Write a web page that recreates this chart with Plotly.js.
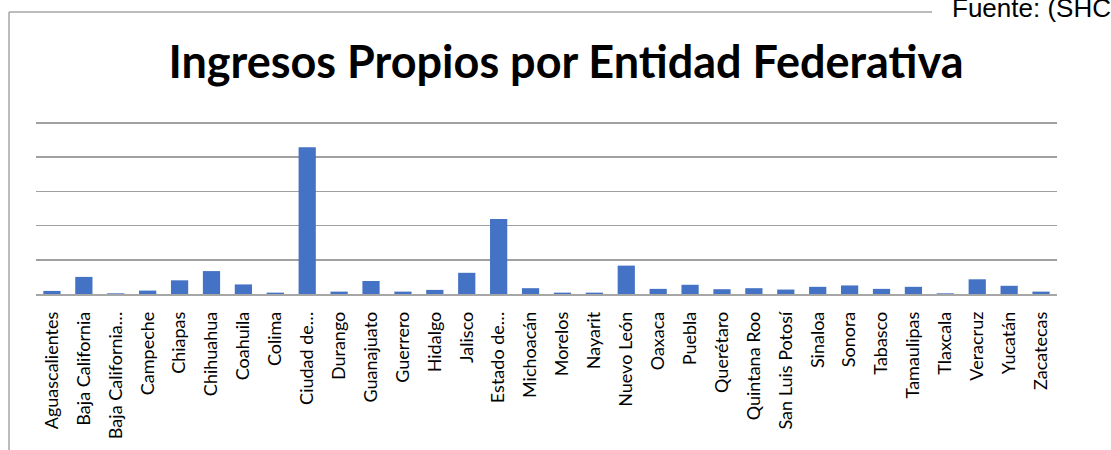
<!DOCTYPE html>
<html>
<head>
<meta charset="utf-8">
<script src="https://cdn.plot.ly/plotly-3.0.1.min.js"></script>
<style>
  html, body { margin: 0; padding: 0; background: #fff; }
  #chart { width: 1111px; height: 450px; }
</style>
</head>
<body>
<div id="chart"></div>
<script>
// entidades as shown on the axis (Excel truncated three of them)
const entidades = [
  "Aguascalientes", "Baja California", "Baja California…", "Campeche",
  "Chiapas", "Chihuahua", "Coahuila", "Colima", "Ciudad de…", "Durango",
  "Guanajuato", "Guerrero", "Hidalgo", "Jalisco", "Estado de…", "Michoacán",
  "Morelos", "Nayarit", "Nuevo León", "Oaxaca", "Puebla", "Querétaro",
  "Quintana Roo", "San Luis Potosí", "Sinaloa", "Sonora", "Tabasco",
  "Tamaulipas", "Tlaxcala", "Veracruz", "Yucatán", "Zacatecas",
];

// in gridline units (axis has no labels)
const ingresos = [
  0.09, 0.50, 0.02, 0.10, 0.40, 0.67, 0.28, 0.04, 4.29, 0.07,
  0.38, 0.07, 0.12, 0.62, 2.19, 0.17, 0.04, 0.04, 0.83, 0.15,
  0.27, 0.14, 0.17, 0.13, 0.21, 0.25, 0.15, 0.21, 0.02, 0.43,
  0.24, 0.07,
];

const gridTicks = [0, 1, 2, 3, 4, 5];

const W = 1111, H = 450;
const margin = { l: 36, r: 54, t: 122, b: 156 };
const plotW = W - margin.l - margin.r;
const plotH = H - margin.t - margin.b;
// pixel -> paper coords, for the frame around the chart
const px = (x) => (x - margin.l) / plotW;
const py = (y) => (H - margin.b - y) / plotH;

const frame = "#a6a6a6";

const trace = {
  type: "bar",
  x: entidades,
  y: ingresos,
  marker: { color: "#4472c4", line: { width: 0 } },
  hoverinfo: "x+y",
};

const layout = {
  width: W,
  height: H,
  margin: margin,
  paper_bgcolor: "#fff",
  plot_bgcolor: "#fff",
  showlegend: false,
  bargap: 0.46,
  title: {
    text: "Ingresos Propios por Entidad Federativa",
    font: { family: "Lato", size: 45, color: "#000", weight: "bold" },
    x: 566 / W,
    xanchor: "center",
    y: 1 - 62 / H,
    yanchor: "middle",
  },
  xaxis: {
    type: "category",
    tickangle: -90,
    tickfont: { family: "Lato", size: 18, color: "#000" },
    ticks: "",
    ticklabelstandoff: 9,
    showgrid: false,
    showline: true,
    linecolor: "#a6a6a6",
    linewidth: 1.5,
    fixedrange: true,
  },
  yaxis: {
    // a hair above 5 so the top gridline is drawn
    range: [0, 5.03],
    tickvals: gridTicks,
    showticklabels: false,
    showgrid: true,
    gridcolor: "#a0a0a0",
    gridwidth: 1.5,
    zeroline: false,
    fixedrange: true,
  },
  shapes: [
    {
      type: "line", xref: "paper", yref: "paper",
      x0: px(9), x1: px(932), y0: py(12), y1: py(12),
      line: { color: frame, width: 1.5 },
    },
    {
      type: "line", xref: "paper", yref: "paper",
      x0: px(9), x1: px(9), y0: py(12), y1: py(452),
      line: { color: frame, width: 1.5 },
    },
  ],
  annotations: [
    {
      text: "Fuente: (SHCP)",
      xref: "paper", yref: "paper",
      x: px(950), y: py(25),
      xanchor: "left", yanchor: "bottom",
      showarrow: false,
      font: { family: "Liberation Sans", size: 26, color: "#000" },
    },
  ],
};

Plotly.newPlot("chart", [trace], layout, { displayModeBar: false, staticPlot: true });
</script>
</body>
</html>
